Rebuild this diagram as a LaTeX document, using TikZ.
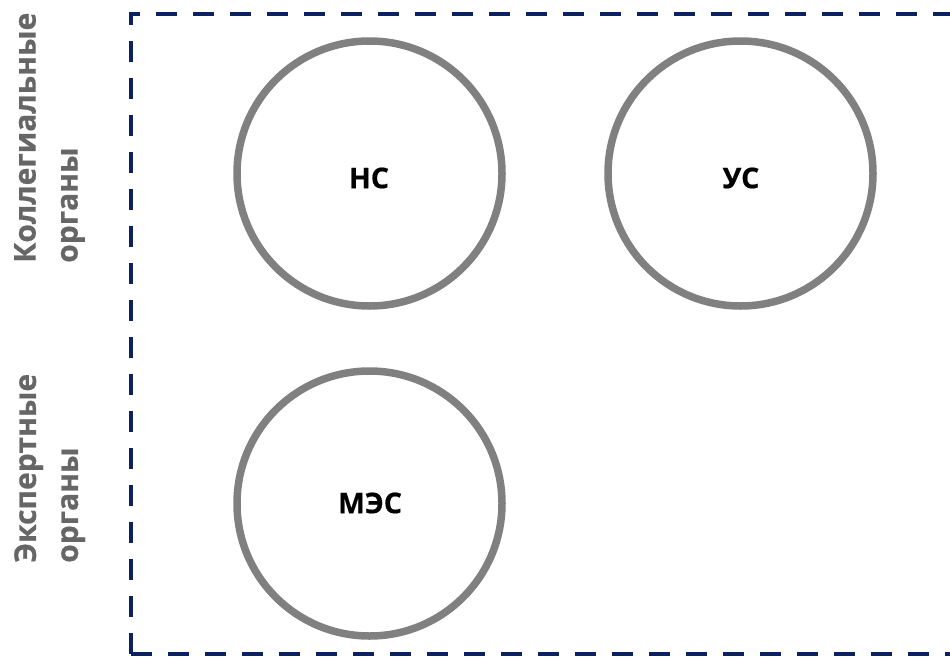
\documentclass[tikz,border=0pt]{standalone}
\usepackage{fontspec}
\setmainfont{Open Sans}[BoldFeatures={FakeBold=0.6}]
\definecolor{navy}{HTML}{0B2160}
\definecolor{ringgray}{HTML}{808080}
\definecolor{labgray}{HTML}{666666}
\begin{document}
\begin{tikzpicture}[x=1pt,y=1pt,
  ring/.style={circle, draw=ringgray, line width=7.5pt, minimum size=265pt, inner sep=0pt},
  ctext/.style={font=\fontsize{28.5}{34}\selectfont\bfseries, text=black, inner sep=0pt},
  sidelab/.style={font=\fontsize{30}{42}\selectfont\bfseries, text=labgray, rotate=90, align=left, inner sep=0pt, anchor=north west},
  frame/.style={draw=navy, line width=4pt, dash pattern=on 21pt off 16pt}]
\useasboundingbox (0,0) rectangle (950,-656);
\draw[frame] (130.5,-654) -- (130.5,-13.5) -- (990,-13.5);
\draw[frame] (130.5,-654) -- (990,-654);
\node[ring] (hc) at (369.5,-173.5) {};
\node[ring] (yc) at (740.5,-173.5) {};
\node[ring] (mec) at (369.5,-503.5) {};
\node[ctext] (thc) at (369,-178) {НС};
\node[ctext] (tyc) at (741,-178) {УС};
\node[ctext] (tmec) at (370,-503) {МЭС};
\node[sidelab] (lab1) at (14,-263) {Коллегиальные\\органы};
\node[sidelab] (lab2) at (14,-563) {Экспертные\\органы};
\end{tikzpicture}
\end{document}
